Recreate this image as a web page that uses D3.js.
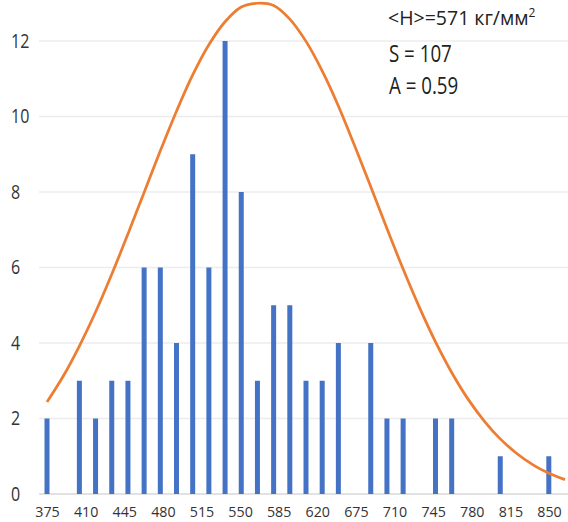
<!DOCTYPE html>
<html>
<head>
<meta charset="utf-8">
<script src="https://cdn.jsdelivr.net/npm/d3@7"></script>
<style>
  body { margin: 0; background: #fff; }
  svg { display: block; font-family: "Open Sans", sans-serif; }
</style>
</head>
<body>
<div id="chart"></div>
<script>
// Bin centres (kg/mm2), one bar per bin
const bins = [375, 390, 405, 420, 435, 450, 465, 480, 495, 510, 525, 540, 555, 570, 585, 600,
  615, 630, 645, 660, 675, 690, 705, 720, 735, 750, 765, 780, 795, 810, 825, 840, 855];
const counts = [2, 0, 3, 2, 3, 3, 6, 6, 4, 9, 6, 12, 8, 3, 5, 5,
  3, 3, 4, 0, 4, 2, 2, 0, 2, 2, 0, 0, 1, 0, 0, 1, 0];
// fitted normal curve, read at each bin
const fitValues = [2.44, 3.12, 3.92, 4.82, 5.82, 6.89, 7.99, 9.09, 10.14, 11.1, 11.9, 12.51, 12.9, 13.0, 12.94, 12.58,
  11.99, 11.21, 10.28, 9.23, 8.14, 7.03, 5.96, 4.95, 4.03, 3.22, 2.52, 1.94, 1.46, 1.08, 0.78, 0.55, 0.38];
const tickLabels = ["375", "410", "445", "480", "515", "550", "585", "620", "675", "710", "745", "780", "815", "850"];
const yTicks = [0, 2, 4, 6, 8, 10, 12];
const statLines = ["S = 107", "A = 0.59"];

const width = 568;
const height = 522;
const plot = { left: 39, right: 568, top: 41, bottom: 494 };

const svg = d3
  .select("#chart")
  .append("svg")
  .attr("width", width)
  .attr("height", height);

const xScale = d3
  .scalePoint()
  .domain(bins)
  .range([47, 565]);

const labelScale = d3
  .scalePoint()
  .domain(tickLabels)
  .range([47, 549]);

const yScale = d3
  .scaleLinear()
  .domain([0, 12])
  .range([plot.bottom, plot.top]);

// Gridlines

svg
  .append("g")
  .selectAll("line")
  .data(yTicks)
  .enter()
  .append("line")
  .attr("x1", plot.left)
  .attr("x2", plot.right)
  .attr("y1", (d) => yScale(d))
  .attr("y2", (d) => yScale(d))
  .attr("stroke", (d) => (d === 0 ? "#d9d9d9" : "#ececec"))
  .attr("stroke-width", 1.5);

// Axis

const yAxis = svg
  .append("g")
  .attr("transform", "translate(11, 0)")
  .call(d3.axisLeft(yScale).tickValues(yTicks).tickSize(0).tickPadding(0));

yAxis.select(".domain").remove();
yAxis
  .selectAll("text")
  .attr("x", 0)
  .attr("text-anchor", "start")
  .attr("transform", "scale(0.8, 1)")
  .attr("fill", "#333")
  .style("font-size", "20px")
  .style("font-family", "Open Sans, sans-serif");

const xAxis = svg
  .append("g")
  .attr("transform", "translate(0, 517)")
  .call(d3.axisBottom(labelScale).tickSize(0).tickPadding(0));

xAxis.select(".domain").remove();
xAxis
  .selectAll("text")
  .attr("y", 0)
  .attr("dy", 0)
  .attr("transform", "scale(0.95, 1)")
  .attr("fill", "#333")
  .style("font-size", "15px")
  .style("font-family", "Open Sans, sans-serif");

// Bars

svg
  .append("g")
  .selectAll("rect")
  .data(bins.map((b, i) => ({ bin: b, count: counts[i] })).filter((d) => d.count > 0))
  .enter()
  .append("rect")
  .attr("x", (d) => xScale(d.bin) - 2.5)
  .attr("y", (d) => yScale(d.count))
  .attr("width", 5)
  .attr("height", (d) => yScale(0) - yScale(d.count))
  .attr("fill", "#4472c4");

// Normal curve

svg
  .append("path")
  .datum(bins.map((b, i) => ({ x: b, y: fitValues[i] })))
  .attr("fill", "none")
  .attr("stroke", "#ed7d31")
  .attr("stroke-width", 2.75)
  .attr(
    "d",
    d3
      .line()
      .curve(d3.curveCatmullRom)
      .x((d) => xScale(d.x))
      .y((d) => yScale(d.y))
  );

// Stats box

const stat = svg
  .append("text")
  .attr("x", 388)
  .attr("y", 25)
  .attr("fill", "#222")
  .style("font-size", "19.5px");

stat.append("tspan").text("<H>=571 кг/мм");
stat
  .append("tspan")
  .attr("dy", -8)
  .style("font-size", "12px")
  .text("2");

svg
  .append("g")
  .selectAll("text")
  .data(statLines)
  .enter()
  .append("text")
  .attr("transform", (d, i) => `translate(389, ${62 + i * 32}) scale(0.78, 1)`)
  .attr("fill", "#222")
  .style("font-size", "24px")
  .text((d) => d);
</script>
</body>
</html>
